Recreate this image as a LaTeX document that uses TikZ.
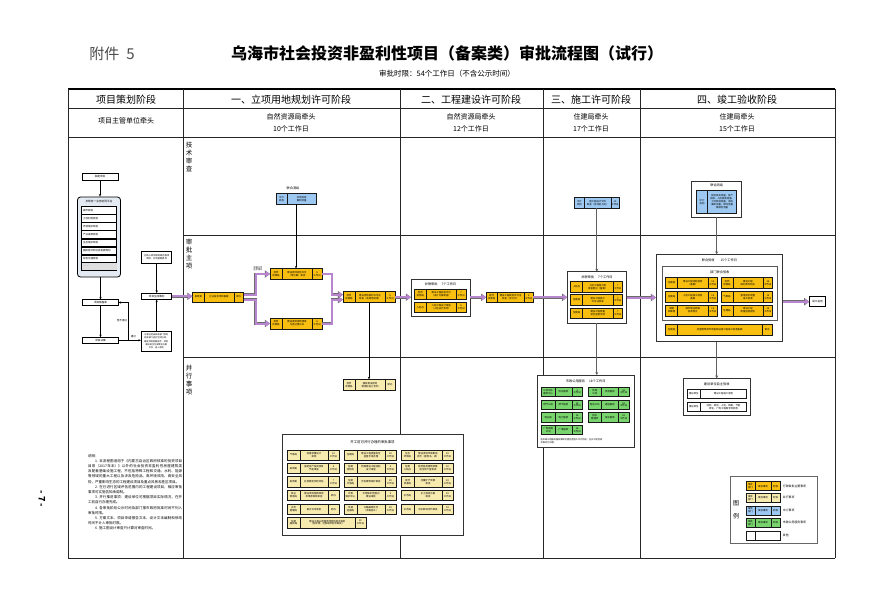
\documentclass[tikz,border=0pt]{standalone}
\usepackage{fontspec}
\setmainfont{Noto Sans CJK SC}
\XeTeXlinebreaklocale "zh"
\XeTeXlinebreakskip = 0pt plus 1pt
\usetikzlibrary{arrows.meta,calc}
\definecolor{ycol}{HTML}{F8BF10}
\definecolor{lycol}{HTML}{F8EBB0}
\definecolor{bcol}{HTML}{9CC8F2}
\definecolor{gcol}{HTML}{78D46C}
\definecolor{pcol}{HTML}{B886CE}
\definecolor{lbg}{HTML}{E4EAF2}
% three-cell item: name, cx, cy, w, h, fill, dept, matter, days
\newcommand\itm[9]{%
 \pgfmathsetmacro\ixl{#2-#4/2}%
 \pgfmathsetmacro\ixa{#2-#4/2+\itmfa*#4}%
 \pgfmathsetmacro\ixb{#2+#4/2-\itmfb*#4}%
 \pgfmathsetmacro\ixr{#2+#4/2}%
 \pgfmathsetmacro\iyt{#3-#5/2}%
 \pgfmathsetmacro\iyb{#3+#5/2}%
 \pgfmathsetmacro\ixd{(\ixl+\ixa)/2}%
 \pgfmathsetmacro\ixm{(\ixa+\ixb)/2}%
 \pgfmathsetmacro\ixt{(\ixb+\ixr)/2}%
 \node[cellbox,fill=#6,minimum width=#4pt,minimum height=#5pt] (#1) at (#2,#3) {};
 \draw[cellline] (\ixa,\iyt) -- (\ixa,\iyb) (\ixb,\iyt) -- (\ixb,\iyb);
 \node[ctext] (#1-d) at (\ixd,#3) {#7};
 \node[ctext] (#1-m) at (\ixm,#3) {#8};
 \node[ctext] (#1-t) at (\ixt,#3) {#9};
}
% two-cell item: name, cx, cy, w, h, fill, left, right
\newcommand\itmb[8]{%
 \pgfmathsetmacro\ixl{#2-#4/2}%
 \pgfmathsetmacro\ixa{#2-#4/2+\itmfa*#4}%
 \pgfmathsetmacro\ixr{#2+#4/2}%
 \pgfmathsetmacro\iyt{#3-#5/2}%
 \pgfmathsetmacro\iyb{#3+#5/2}%
 \pgfmathsetmacro\ixd{(\ixl+\ixa)/2}%
 \pgfmathsetmacro\ixm{(\ixa+\ixr)/2}%
 \node[cellbox,fill=#6,minimum width=#4pt,minimum height=#5pt] (#1) at (#2,#3) {};
 \draw[cellline] (\ixa,\iyt) -- (\ixa,\iyb);
 \node[ctext] (#1-d) at (\ixd,#3) {#7};
 \node[ctext] (#1-m) at (\ixm,#3) {#8};
}
\begin{document}
\begin{tikzpicture}[x=1pt,y=-1pt,
 tline/.style={line width=0.7pt, draw=black!85},
 cellbox/.style={draw=black!90, line width=0.6pt, inner sep=0pt, outer sep=0pt},
 cellline/.style={draw=black!90, line width=0.45pt},
 ctext/.style={font=\fontsize{2.4}{2.9}\selectfont, align=center, inner sep=0pt},
 grpbox/.style={draw=black!80, line width=0.8pt, fill=white, inner sep=0pt, outer sep=0pt},
 gtitle/.style={font=\fontsize{3.2}{3.6}\selectfont, inner sep=0pt},
 wbox/.style={draw=black, line width=0.6pt, fill=white, inner sep=0pt, outer sep=0pt, font=\fontsize{2.6}{3.1}\selectfont, align=center},
 barrow/.style={draw=black, line width=0.5pt, -{Stealth[length=2.6pt,width=2.2pt]}},
 garrow/.style={draw=gray!75!black, line width=1pt, -{Stealth[length=3pt,width=3pt]}},
 parrow/.style={draw=pcol, line width=2pt, -{Triangle[length=4.5pt,width=6pt]}, preaction={draw=gray!85!black, line width=2.9pt, -{Triangle[length=5.2pt,width=7.2pt]}}},
 hdr/.style={font=\fontsize{10}{12}\selectfont, inner sep=0pt},
 subh/.style={font=\fontsize{7}{12}\selectfont, align=center, inner sep=0pt},
 vlab/.style={font=\fontsize{6.5}{8}\selectfont, align=center, inner sep=0pt},
]
\fill[white] (0,0) rectangle (896,611);
\useasboundingbox (0,0) rectangle (896,611);

% ---------------- header ----------------
\node[font=\fontsize{15}{15}\selectfont, text=black!70, inner sep=0pt] (fj) at (112,54) {附件\hspace{7pt}5};
\node[font=\bfseries\fontsize{16}{16}\selectfont, inner sep=0pt] (title) at (447,53) {乌海市社会投资非盈利性项目（备案类）审批流程图（试行）};
\node[font=\fontsize{7.5}{8}\selectfont, inner sep=0pt] (subt) at (447,74) {审批时限：54个工作日（不含公示时间）};
\node[rotate=-90, font=\bfseries\fontsize{9}{9}\selectfont, inner sep=0pt] (pg) at (42,499) {- 7 -};

% ---------------- table ----------------
\draw[line width=2.2pt] (68,89) -- (835,89);
\draw[tline] (68,108) -- (835,108) (68,137) -- (835,137) (68,558) -- (835,558);
\foreach \xx in {68,183,400,543,640,835} \draw[tline] (\xx,89) -- (\xx,558);
\draw[tline] (183,235) -- (835,235) (183,357) -- (835,357);

\node[hdr] (h0) at (126,100) {项目策划阶段};
\node[hdr] (h1) at (291,100) {一、立项用地规划许可阶段};
\node[hdr] (h2) at (471,100) {二、工程建设许可阶段};
\node[hdr] (h3) at (591,100) {三、施工许可阶段};
\node[hdr] (h4) at (737,100) {四、竣工验收阶段};
\node[subh] (s0) at (126,121) {项目主管单位牵头};
\node[subh] (s1) at (291,123) {自然资源局牵头\\10个工作日};
\node[subh] (s2) at (471,123) {自然资源局牵头\\12个工作日};
\node[subh] (s3) at (591,123) {住建局牵头\\17个工作日};
\node[subh] (s4) at (737,123) {住建局牵头\\15个工作日};

\node[vlab] (v1) at (189,157) {技\\术\\审\\查};
\node[vlab] (v2) at (189,253.5) {审\\批\\主\\项};
\node[vlab] (v3) at (189,380) {并\\行\\事\\项};

% ---------------- project planning column ----------------
\node[wbox, minimum width=36pt, minimum height=6.5pt] (nj) at (100,177) {拟建项目};
\node[draw=black, line width=0.8pt, fill=lbg, rounded corners=3pt, minimum width=43pt, minimum height=80pt, inner sep=0pt] (pt) at (99,237) {};
\node[font=\fontsize{2.7}{3.2}\selectfont, inner sep=0pt] (ptt) at (99,201.5) {多规合一业务协同平台};
\foreach \nm/\tx [count=\i] in {pr1/城市规划, pr2/土地利用规划, pr3/环境保护规划, pr4/产业发展规划, pr5/生态保护规划, pr6/国民经济和社会发展规划, pr7/综合交通规划, pr8/……} {
  \node[draw=black, line width=0.5pt, fill=white, minimum width=35pt, minimum height=7.4pt, inner sep=0pt] (\nm) at (99.2,201.95+8.1*\i) {};
  \node[font=\fontsize{2.5}{3}\selectfont, anchor=west, inner sep=0pt] (\nm-t) at (83,201.95+8.1*\i) {\tx};
}
\fill[gray!25] ([shift={(0.3pt,-0.3pt)}]pr8.north west) rectangle ([shift={(-0.3pt,0.3pt)}]pr8.south east);
\node[font=\fontsize{2.5}{3}\selectfont, anchor=west, inner sep=0pt] (pr8-u) at (83,266.75) {……};

\node[wbox, minimum width=36pt, minimum height=6pt] (cbk) at (100.5,302.5) {项目储备库};
\node[wbox, minimum width=36pt, minimum height=6pt] (jc) at (100.5,340.3) {项目决策};
\node[wbox, minimum width=30pt, minimum height=11.7pt, font=\fontsize{2.3}{3}\selectfont] (yn) at (156.7,257.5) {已纳入项目库的政府投资\\项目，符合前期条件};
\node[wbox, minimum width=30pt, minimum height=6.5pt] (sc) at (156.7,296.3) {项目生成策划};
\node[wbox, minimum width=30.7pt, minimum height=20.7pt, font=\fontsize{2.15}{3.4}\selectfont] (fa) at (156.3,341.3) {方案已经由发改部门会同\\相关部门进行空间协调，\\确定项目前期条件，项目\\建设单位生成策划方案\\文件，进入审批};

\draw[barrow] (nj) -- (nj |- pt.north);
\draw[barrow] (pt.south -| cbk.north) -- (cbk);
\draw[barrow] (cbk) -- (jc);
\draw[barrow] (jc.east) -- (jc.east -| fa.west);
\node[font=\fontsize{2.5}{3}\selectfont, inner sep=0pt] (tg) at (133.4,337) {通过};
\draw[barrow] (jc.east) -- ++(9.8,0) |- (cbk.east);
\node[font=\fontsize{2.5}{3}\selectfont, inner sep=0pt, anchor=east] (btg) at (127.3,321) {暂不通过};
\draw[barrow] (fa.north -| sc.south) -- (sc.south);
\draw[barrow] (yn) -- (sc);

% ---------------- stage 1 ----------------
\node[gtitle] (bl1t) at (293,188) {联合测绘};
\def\itmfa{0.28}
\itmb{bl1}{296}{198.8}{40}{11}{bcol}{中介\\机构}{宗地测绘\\面积测量}
\def\itmfa{0.23}\def\itmfb{0.19}
\itm{up1}{296}{274}{52}{11}{ycol}{自然\\资源局}{建设用地规划许可\\（带方案）审批}{5\\工作日}
\itm{lo1}{296}{323.5}{52}{11}{ycol}{自然\\资源局}{建设项目用地预审\\与选址意见书}{5\\工作日}
\itm{fg}{218}{297}{51}{10}{ycol}{发改委}{企业投资项目备案}{即办}
\itm{mg}{369}{297.2}{52}{11}{ycol}{自然\\资源局}{建设用地规划许可证\\核发（含用地批准）}{5\\工作日}
\itm{par1}{369}{384.7}{52}{10.7}{lycol}{自然\\资源局}{国有建设用地\\使用权出让合同}{即办}
\node[ctext, font=\fontsize{2.2}{2.6}\selectfont] (lbl1) at (258,268.5) {批前公示\\征求意见};

\draw[barrow] (bl1) -- (up1);
\draw[barrow] (mg) -- (par1);
\draw[parrow] (sc.east) -- (sc.east -| fg.west);
\draw[parrow] ([yshift=2.5pt]fg.east) -- ++(12,0) |- (up1.west);
\draw[parrow] ([yshift=-2.5pt]fg.east) -- ++(12,0) |- (lo1.west);
\draw[parrow] (up1.east) -- ++(10,0) |- ([yshift=2.5pt]mg.west);
\draw[parrow] (lo1.east) -- ++(10,0) |- ([yshift=-2.5pt]mg.west);

% ---------------- stage 2 ----------------
\node[grpbox, minimum width=59pt, minimum height=36.7pt] (grp2) at (440.5,297.7) {};
\node[gtitle] (grp2t) at (440.5,284.3) {并联审批\hspace{4pt}7个工作日};
\itm{r2a}{440.2}{294.2}{51.7}{9.7}{ycol}{自然\\资源局}{建设工程规划许可\\（设计方案审查）}{7\\工作日}
\itm{r2b}{440.2}{307.3}{51.7}{10}{ycol}{人防办}{人防工程设计审查\\（人防设计条件）}{5\\工作日}
\itm{gh2}{509.7}{297.3}{47}{10}{ycol}{自然\\资源局}{建设工程规划许可证\\核发（含公示）}{5\\工作日}
\draw[parrow] (mg.east) -- (mg.east -| grp2.west);
\draw[parrow] (grp2.east |- gh2.west) -- (gh2.west);

% ---------------- stage 3 ----------------
\itm{bl3}{596.8}{202.8}{45}{11}{bcol}{中介\\机构}{施工图设计文件\\审查（含消防人防）}{15\\工作日}
\node[grpbox, minimum width=59.4pt, minimum height=51.6pt] (grp3) at (597,297.5) {};
\node[gtitle] (grp3t) at (597,277.3) {并联审批\hspace{4pt}7个工作日};
\itm{r3a}{596.7}{287}{52}{10.6}{ycol}{人防办}{人防工程施工图\\审查意见（备案）}{7\\工作日}
\itm{r3b}{596.7}{299.7}{52}{10.7}{ycol}{住建局}{建设工程施工\\许可证核发}{7\\工作日}
\itm{r3c}{596.7}{313}{52}{10}{ycol}{住建局}{建设工程质量\\安全监督手续}{7\\工作日}
\draw[garrow] (bl3.south) -- (bl3.south |- grp3.north);
\draw[parrow] (gh2.east) -- (gh2.east -| grp3.west);

\node[grpbox, minimum width=96.7pt, minimum height=72.3pt] (gr3) at (585.7,411.2) {};
\node[gtitle] (gr3t) at (585.7,381) {市政公用服务\hspace{4pt}18个工作日};
\draw[garrow] (bl3.south |- grp3.south) -- (bl3.south |- gr3.north);
\def\itmfa{0.33}\def\itmfb{0.26}
\itm{g1}{562}{391.7}{41}{9.5}{gcol}{公共供水\\服务中心}{供水报装}{4\\工作日}
\itm{g2}{608.5}{391.7}{41}{9.5}{gcol}{热电\\公司}{供热报装}{18\\工作日}
\itm{g3}{562}{404.7}{41}{9.5}{gcol}{燃气公司}{燃气报装}{18\\工作日}
\itm{g4}{608.5}{404.7}{41}{9.5}{gcol}{电信公司}{通信报装}{18\\工作日}
\itm{g5}{562}{417.3}{41}{9.5}{gcol}{电业局}{电力报装}{18\\工作日}
\itm{g6}{608.5}{417.3}{41}{9.5}{gcol}{排水\\管理所}{排水报装}{18\\工作日}
\itm{g7}{562}{430}{41}{9.5}{gcol}{广电网络\\公司}{广电报装}{18\\工作日}
\node[ctext, font=\fontsize{2.2}{2.9}\selectfont, text width=90pt, align=left] (gnote) at (585.7,440.8) {各市政公用服务报装事项可提前至施工许可阶段，在开工前完成\\并联并行办理。};

% ---------------- stage 4 ----------------
\node[grpbox, minimum width=50pt, minimum height=36.3pt] (grp4a) at (716.7,199.2) {};
\node[gtitle] (grp4at) at (716.7,185.7) {联合测绘};
\def\itmfa{0.27}
\itmb{bl4}{716.7}{201.7}{40}{23.3}{bcol}{中介\\机构}{规划核实测量、房产\\测绘、人防面积测量、\\土地核验测量、消防\\面积测量、绿地测量\\等联合测量}
\node[grpbox, minimum width=126.7pt, minimum height=87.4pt] (grp4) at (719.4,298) {};
\node[gtitle] (grp4t) at (719.4,260) {联合验收\hspace{6pt}15个工作日};
\node[grpbox, draw=black!65, minimum width=115pt, minimum height=54pt] (sub4) at (719.8,293.7) {};
\node[gtitle] (sub4t) at (719.8,272.3) {部门联合验收};
\draw[garrow] (grp4a.south) -- (grp4a.south |- grp4.north);
\def\itmfa{0.23}\def\itmfb{0.19}
\itm{k1}{691.7}{282.8}{52}{11}{ycol}{住建局}{建设工程消防验收\\（备案）}{15\\工作日}
\itm{k2}{746.9}{282.8}{51.7}{11}{ycol}{自然\\资源局}{建设工程\\规划条件核实}{15\\工作日}
\itm{k3}{691.7}{296.8}{52}{11}{ycol}{住建局}{人防工程竣工验收\\备案}{15\\工作日}
\itm{k4}{746.9}{296.8}{51.7}{11}{ycol}{气象局}{雷电防护装置\\竣工验收}{15\\工作日}
\itm{k5}{691.7}{310.5}{52}{11}{ycol}{城建\\档案馆}{城市建设档案\\验收意见}{15\\工作日}
\itm{k6}{746.9}{310.5}{51.7}{11}{ycol}{住建局}{建设工程\\质量监督报告}{15\\工作日}
\def\itmfa{0.11}\def\itmfb{0.1}
\itm{b4}{719.2}{330}{107}{11.4}{ycol}{住建局}{房屋建筑和市政基础设施工程竣工验收备案}{即办}
\node[wbox, minimum width=16.4pt, minimum height=10pt] (tc) at (817.5,301.7) {竣工投用};
\draw[parrow] (grp3.east) -- (grp3.east -| grp4.west);
\draw[parrow] (grp4.east |- tc.west) -- (tc.west);

\node[grpbox, minimum width=66.7pt, minimum height=36.7pt] (zz) at (716.7,396.7) {};
\node[gtitle] (zzt) at (716.7,384.3) {建设单位自主验收};
\draw[garrow] (zz.north |- grp4.south) -- (zz.north);
\def\itmfa{0.22}
\itmb{z1}{717}{393.8}{59.4}{9}{white}{建设单位}{建设工程竣工验收}
\itmb{z2}{717}{407}{59.4}{9.4}{white}{建设单位}{消防、规划、人防、档案、节能\\绿化、广电工程等专项验收}

% ---------------- parallel items table ----------------
\node[grpbox, minimum width=181pt, minimum height=101pt] (bt) at (372.5,484.5) {};
\node[gtitle, font=\fontsize{3.4}{4}\selectfont] (btt) at (372.5,442) {开工前可并行办理的审批事项};
\def\itmfa{0.25}\def\itmfb{0.21}
\itm{q1}{313}{455}{52}{10.4}{lycol}{气象局}{防雷装置设计\\审核}{10\\工作日}
\itm{q2}{370}{455}{52}{10.4}{lycol}{住建局}{建设工程质量安全\\监督手续办理}{20\\工作日}
\itm{q3}{427}{455}{52}{10.4}{lycol}{生态\\环境局}{建设项目环境影响\\评价（报告书、表）}{20\\工作日}
\itm{q4}{313}{468.2}{52}{10.4}{lycol}{发改委}{固定资产投资项目\\节能审查}{5\\工作日}
\itm{q5}{370}{468.2}{52}{10.4}{lycol}{住建\\消防科}{特殊建设工程消防\\设计审查}{5\\工作日}
\itm{q6}{427}{468.2}{52}{10.4}{lycol}{住建\\人防办}{结合民用建筑修建\\防空地下室审批}{20\\工作日}
\itm{q7}{313}{481.8}{52}{10.4}{lycol}{发改委}{社会稳定风险评估}{7\\工作日}
\itm{q8}{370}{481.8}{52}{10.4}{lycol}{住建\\文旅局}{历史建筑保护审批}{20\\工作日}
\itm{q9}{427}{481.8}{52}{10.4}{lycol}{自然\\资源局}{压覆矿产资源\\审批}{20\\工作日}
\itm{q10}{313}{495.4}{52}{10.4}{lycol}{林业\\草原局}{建设项目使用林地\\及草原审核审批}{即办}
\itm{q11}{370}{495.4}{52}{10.4}{lycol}{文物\\保护中心}{文物保护范围内\\建设审批}{5\\工作日}
\itm{q12}{427}{495.4}{52}{10.4}{lycol}{水务局}{水土保持方案\\审批}{20\\工作日}
\itm{q13}{313}{509.2}{52}{10.4}{lycol}{水务\\管理局}{取水许可审批}{即办}
\itm{q14}{370}{509.2}{52}{10.4}{lycol}{交通\\运输局}{公路路政许可\\（涉路施工）}{20\\工作日}
\itm{q15}{427}{509.2}{52}{10.4}{lycol}{水务局}{洪水影响评价审批}{20\\工作日}
\def\itmfa{0.16}\def\itmfb{0.14}
\itm{q16}{326.6}{522.6}{78.7}{10.4}{lycol}{住建\\园林局}{建设工程占用城市绿地和树木审批\\（含砍伐、迁移城市树木审批）}{20\\工作日}

% ---------------- notes ----------------
\node[anchor=north west, inner sep=0pt, text width=94pt, align=justify, font=\fontsize{3.5}{5.2}\selectfont] (notes) at (88,454) {说明：\par
\hspace*{7pt}1. 本流程图适用于《内蒙古自治区政府核准的投资项目目录（2017年本）》以外的社会投资非盈利性房屋建筑类及配套基础设施工程，不包括特殊工程和交通、水利、能源等领域的重大工程以及涉及危险品、高环境风险、高安全风险，严重影响生态的工程建设项目及重点风景名胜区项目。\par
\hspace*{7pt}2. 在已进行区域评估范围内的工程建设项目，相应审批事项可实施告知承诺制。\par
\hspace*{7pt}3. 并行推进事项：建设单位可根据项目实际情况，在开工前自行办理完成。\par
\hspace*{7pt}4. 各审批阶段公示时间及部门报市政府批准时间不列入审批时限。\par
\hspace*{7pt}5. 方案文本、项目申请报告文本、设计文本编制和修改时间不计入审批时限。\par
\hspace*{7pt}6. 施工图设计审查只计算对审查时间。};

% ---------------- legend ----------------
\node[grpbox, draw=black!60, minimum width=87.3pt, minimum height=66.6pt] (lg) at (773.7,510) {};
\node[font=\fontsize{6}{13}\selectfont, align=center, inner sep=0pt] (lgt) at (736,510) {图\\例};
\def\itmfa{0.26}\def\itmfb{0.26}
\itm{L1}{763}{486.2}{34}{9}{ycol}{审批\\部门}{审批事项}{时限}
\itm{L2}{763}{497.8}{34}{9}{lycol}{审批\\部门}{审批事项}{时限}
\itm{L3}{763}{510.5}{34}{9}{bcol}{审批\\部门}{审批事项}{时限}
\itm{L4}{763}{522.8}{34}{9}{gcol}{审批\\部门}{审批事项}{时限}
\itmb{L5}{763}{535.3}{34}{9}{white}{}{}
\foreach \nm/\yy/\tx in {l1/486.2/行政审批主要事项, l2/497.8/并行事项, l3/510.5/中介事项, l4/522.8/市政公用服务事项, l5/535.3/其他}
  \node[font=\fontsize{2.9}{3.4}\selectfont, anchor=west, inner sep=0pt] (\nm) at (782.7,\yy) {\tx};
\end{tikzpicture}
\end{document}
